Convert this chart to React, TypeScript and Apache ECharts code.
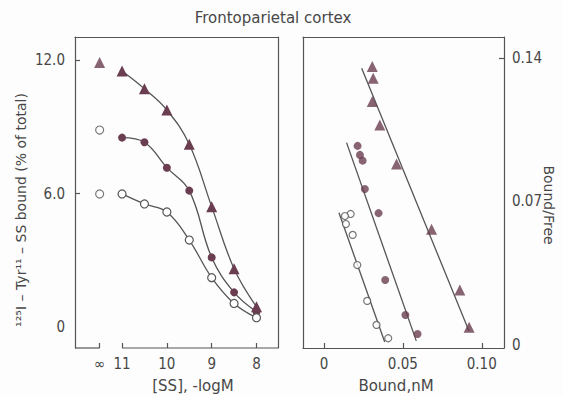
import React, { useEffect, useRef } from 'react';
import * as echarts from 'echarts';

// ---- Left panel: displacement curves (x = -log M of SS, y = % of total bound)
const concLogM = [11, 10.5, 10, 9.5, 9, 8.5, 8];
const triBound = [11.5, 10.7, 9.75, 8.21, 5.41, 2.62, 0.91];
const filledBound = [8.51, 8.3, 7.16, 6.13, 3.13, 1.56, 0.69];
const openBound = [5.98, 5.53, 5.17, 3.91, 2.22, 1.06, 0.42];
// points at "infinity" (no unlabelled SS)
const infPos = 11.5;
const infTriBound = [11.88];
const infOpenBound = [8.85, 5.98];

const leftXLabelValues = [8, 9, 10, 11, infPos];
const leftYLabelValues = [0, 6, 12];
const leftYTickValues = [6, 12];

// ---- Right panel: Scatchard plots (x = Bound nM, y = Bound/Free)
const triX = [0.0306, 0.0312, 0.0306, 0.0354, 0.046, 0.0682, 0.0861, 0.092];
const triY = [0.1358, 0.1301, 0.1187, 0.1073, 0.0883, 0.0564, 0.0268, 0.0086];
const triFitX = [0.0239, 0.0919];
const triFitY = [0.135, 0.0068];

const filledX = [0.0213, 0.0228, 0.0245, 0.0259, 0.0346, 0.0388, 0.0516, 0.0593];
const filledY = [0.0971, 0.0927, 0.0899, 0.0761, 0.0643, 0.0317, 0.0146, 0.0054];
const filledFitX = [0.0143, 0.0585];
const filledFitY = [0.0987, 0.002];

const openX = [0.0169, 0.0133, 0.0139, 0.0182, 0.0211, 0.0274, 0.0333, 0.0407];
const openY = [0.0639, 0.0629, 0.059, 0.0537, 0.039, 0.0215, 0.0098, 0.0033];
const openFitX = [0.0095, 0.0385];
const openFitY = [0.0645, 0.0015];

const rightXLabelValues = [0, 0.05, 0.1];
const rightYLabelValues = [0, 0.07, 0.14];
const rightYTickValues = [0.14];

const AX = '#555555';
const MK = '#6a3d50';
const TXT = '#474747';
const LABEL_FONT = "'Liberation Sans Narrow', 'DejaVu Sans Condensed', 'Liberation Sans', sans-serif";
const TITLE_FONT = "'DejaVu Sans', sans-serif";

const L_XMIN = 7.52, L_XMAX = 12.05, L_YMIN = -0.94, L_YMAX = 13.03;
const R_XMIN = -0.0133, R_XMAX = 0.1141, R_YMIN = -0.00146, R_YMAX = 0.1502;

const zip = (xs: number[], ys: number[]) => xs.map((x, i) => [x, ys[i]]);

const axisLineStyle = { color: AX, width: 1.2 };

const frameAxis = (gridIndex: number, position: string, min: number, max: number) => ({
  gridIndex, type: 'value', position, min, max,
  axisLine: { show: true, onZero: false, lineStyle: axisLineStyle },
  axisTick: { show: false }, axisLabel: { show: false }, splitLine: { show: false },
});

export default function App() {
  const ref = useRef<HTMLDivElement>(null);
  useEffect(() => {
    if (!ref.current) return;
    const chart = echarts.init(ref.current, undefined, { renderer: 'svg' });
    const labelStyle = { color: TXT, fontSize: 15, fontFamily: LABEL_FONT };
    const option: any = {
      animation: false,
      backgroundColor: '#fdfdfd',
      grid: [
        { left: 75, top: 37, width: 203, height: 311 },
        { left: 303, top: 37, width: 201, height: 311 },
      ],
      xAxis: [
        {
          gridIndex: 0, type: 'value', inverse: true, position: 'bottom', min: L_XMIN, max: L_XMAX,
          axisLine: { show: false, onZero: false },
          axisTick: { show: true, inside: true, length: 5, customValues: leftXLabelValues, lineStyle: axisLineStyle },
          axisLabel: { ...labelStyle, margin: 8, customValues: leftXLabelValues, formatter: (v: number) => (v === infPos ? '∞' : String(v)) },
          splitLine: { show: false },
        },
        frameAxis(0, 'top', 0, 1),
        {
          gridIndex: 1, type: 'value', position: 'bottom', min: R_XMIN, max: R_XMAX,
          axisLine: { show: true, onZero: false, lineStyle: axisLineStyle },
          axisTick: { show: true, inside: true, length: 5, customValues: rightXLabelValues, lineStyle: axisLineStyle },
          axisLabel: { ...labelStyle, margin: 8, customValues: rightXLabelValues, formatter: (v: number) => (v === 0 ? '0' : v.toFixed(2)) },
          splitLine: { show: false },
        },
        frameAxis(1, 'top', 0, 1),
      ],
      yAxis: [
        {
          gridIndex: 0, type: 'value', position: 'left', min: L_YMIN, max: L_YMAX,
          axisLine: { show: true, onZero: false, lineStyle: axisLineStyle },
          axisTick: { show: true, inside: true, length: 5, customValues: leftYTickValues, lineStyle: axisLineStyle },
          axisLabel: { ...labelStyle, margin: 10, customValues: leftYLabelValues, formatter: (v: number) => (v === 0 ? '0' : v.toFixed(1)) },
          splitLine: { show: false },
        },
        frameAxis(0, 'right', 0, 1),
        frameAxis(1, 'left', 0, 1),
        {
          gridIndex: 1, type: 'value', position: 'right', min: R_YMIN, max: R_YMAX,
          axisLine: { show: true, onZero: false, lineStyle: axisLineStyle },
          axisTick: { show: true, inside: true, length: 5, customValues: rightYTickValues, lineStyle: axisLineStyle },
          axisLabel: { ...labelStyle, margin: 8, customValues: rightYLabelValues, formatter: (v: number) => (v === 0 ? '0' : v.toFixed(2)) },
          splitLine: { show: false },
        },
      ],
      series: [
        // broken bottom axis of the left panel
        {
          type: 'line', xAxisIndex: 0, yAxisIndex: 0, silent: true, clip: false, symbol: 'none',
          lineStyle: axisLineStyle, data: [[L_XMAX, L_YMIN], [infPos, L_YMIN]],
        },
        {
          type: 'line', xAxisIndex: 0, yAxisIndex: 0, silent: true, clip: false, symbol: 'none',
          lineStyle: axisLineStyle, data: [[concLogM[0], L_YMIN], [L_XMIN, L_YMIN]],
        },
        {
          type: 'line', xAxisIndex: 0, yAxisIndex: 0, smooth: 0.4, symbol: 'triangle', symbolSize: 11,
          itemStyle: { color: MK }, lineStyle: { color: AX, width: 1.3 }, z: 3,
          data: zip(concLogM, triBound),
        },
        {
          type: 'line', xAxisIndex: 0, yAxisIndex: 0, smooth: 0.4, symbol: 'circle', symbolSize: 8,
          itemStyle: { color: MK }, lineStyle: { color: AX, width: 1.3 }, z: 3,
          data: zip(concLogM, filledBound),
        },
        {
          type: 'line', xAxisIndex: 0, yAxisIndex: 0, smooth: 0.4, symbol: 'circle', symbolSize: 8,
          itemStyle: { color: '#ffffff', borderColor: AX, borderWidth: 1.2 }, lineStyle: { color: AX, width: 1.3 }, z: 3,
          data: zip(concLogM, openBound),
        },
        {
          type: 'scatter', xAxisIndex: 0, yAxisIndex: 0, symbol: 'triangle', symbolSize: 11,
          itemStyle: { color: MK }, data: infTriBound.map((v) => [infPos, v]),
        },
        {
          type: 'scatter', xAxisIndex: 0, yAxisIndex: 0, symbol: 'circle', symbolSize: 8,
          itemStyle: { color: '#ffffff', borderColor: AX, borderWidth: 1.2 }, data: infOpenBound.map((v) => [infPos, v]),
        },
        // right panel: fitted lines and points
        {
          type: 'line', xAxisIndex: 2, yAxisIndex: 3, symbol: 'none', lineStyle: { color: AX, width: 1.3 },
          data: zip(triFitX, triFitY),
        },
        {
          type: 'line', xAxisIndex: 2, yAxisIndex: 3, symbol: 'none', lineStyle: { color: AX, width: 1.3 },
          data: zip(filledFitX, filledFitY),
        },
        {
          type: 'line', xAxisIndex: 2, yAxisIndex: 3, symbol: 'none', lineStyle: { color: AX, width: 1.3 },
          data: zip(openFitX, openFitY),
        },
        {
          type: 'scatter', xAxisIndex: 2, yAxisIndex: 3, symbol: 'triangle', symbolSize: 11,
          itemStyle: { color: MK }, data: zip(triX, triY), z: 3,
        },
        {
          type: 'scatter', xAxisIndex: 2, yAxisIndex: 3, symbol: 'circle', symbolSize: 8,
          itemStyle: { color: MK }, data: zip(filledX, filledY), z: 3,
        },
        {
          type: 'scatter', xAxisIndex: 2, yAxisIndex: 3, symbol: 'circle', symbolSize: 7,
          itemStyle: { color: '#ffffff', borderColor: AX, borderWidth: 1.2 }, data: zip(openX, openY), z: 3,
        },
      ],
      graphic: [
        {
          type: 'text', x: 273, y: 18,
          style: { text: 'Frontoparietal cortex', font: `15px ${TITLE_FONT}`, fill: TXT, align: 'center', verticalAlign: 'middle', textAlign: 'center', textVerticalAlign: 'middle' },
        },
        {
          type: 'text', x: 21, y: 210, rotation: Math.PI / 2,
          style: { text: '¹²⁵I – Tyr¹¹ – SS bound (% of total)', font: `14px ${TITLE_FONT}`, fill: TXT, align: 'center', verticalAlign: 'middle', textAlign: 'center', textVerticalAlign: 'middle' },
        },
        {
          type: 'text', x: 549, y: 205, rotation: -Math.PI / 2,
          style: { text: 'Bound/Free', font: `14px ${TITLE_FONT}`, fill: TXT, align: 'center', verticalAlign: 'middle', textAlign: 'center', textVerticalAlign: 'middle' },
        },
        {
          type: 'text', x: 193, y: 386,
          style: { text: '[SS], -logM', font: `15px ${TITLE_FONT}`, fill: TXT, align: 'center', verticalAlign: 'middle', textAlign: 'center', textVerticalAlign: 'middle' },
        },
        {
          type: 'text', x: 396, y: 386,
          style: { text: 'Bound,nM', font: `15px ${TITLE_FONT}`, fill: TXT, align: 'center', verticalAlign: 'middle', textAlign: 'center', textVerticalAlign: 'middle' },
        },
      ],
    };
    chart.setOption(option);
    return () => chart.dispose();
  }, []);
  return <div ref={ref} style={{ position: 'fixed', left: 0, top: 0, width: 563, height: 396 }} />;
}
